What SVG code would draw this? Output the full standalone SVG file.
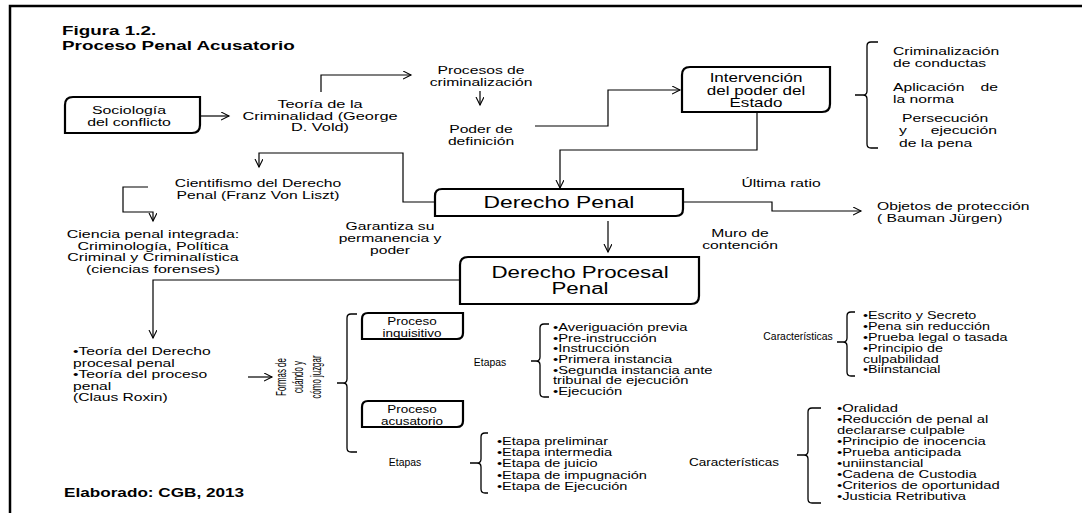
<svg xmlns="http://www.w3.org/2000/svg" width="1082" height="513" viewBox="0 0 1082 513">
<style>
text{font-family:"Liberation Sans",Arial,sans-serif;fill:#000}
.m{text-anchor:middle}
.e{text-anchor:end}
.b{font-weight:bold}
.f11{font-size:11.2px}
.f10{font-size:10.4px}
.box{fill:#fff;stroke:#000;stroke-width:2.2}
.ln{fill:none;stroke:#000;stroke-width:1.2}
.br{fill:none;stroke:#000;stroke-width:1.3}
</style>
<defs>
<marker id="ah" markerWidth="10" markerHeight="10" refX="8" refY="4" orient="auto" markerUnits="userSpaceOnUse">
<path d="M0,0 L8,4 L0,8" fill="none" stroke="#000" stroke-width="1.1"/>
</marker>
</defs>
<rect width="1082" height="513" fill="#fff"/>
<path d="M10 513 V6 H1082" fill="none" stroke="#000" stroke-width="2.5"/>

<g id="title">
<text class="b" font-size="13" transform="translate(62,35) scale(1.45,1)">Figura 1.2.<tspan x="0" dy="15">Proceso Penal Acusatorio</tspan></text>
</g>

<g id="connectors">
<path class="ln" d="M200 116 H229" marker-end="url(#ah)"/>
<path class="ln" d="M321 92 V75 H411" marker-end="url(#ah)"/>
<path class="ln" d="M480 91 V105" marker-end="url(#ah)"/>
<path class="ln" d="M535 126 H608 V90 H680" marker-end="url(#ah)"/>
<path class="ln" d="M757 112 V150 H560 V188" marker-end="url(#ah)"/>
<path class="ln" d="M435 202 H403 V153 H259 V167" marker-end="url(#ah)"/>
<path class="ln" d="M148 187 H123 V212 H153 V221" marker-end="url(#ah)"/>
<path class="ln" d="M683 202 H772 V211 H861" marker-end="url(#ah)"/>
<path class="ln" d="M608 221 V252" marker-end="url(#ah)"/>
<path class="ln" d="M460 280 H153 V338" marker-end="url(#ah)"/>
<path class="ln" d="M248 377 H272" marker-end="url(#ah)"/>
</g>

<g id="sociologia">
<path class="box" d="M65 105 Q65 97 73 97 H200 V125 Q200 133 192 133 H65 Z"/>
<text class="m" font-size="11.5" transform="translate(129,114) scale(1.38,1)">Sociología<tspan x="0" dy="12">del conflicto</tspan></text>
</g>

<g id="teoria-criminalidad">
<text class="m" font-size="11.5" transform="translate(320,108) scale(1.42,1)">Teoría de la<tspan x="0" dy="11.7">Criminalidad (George</tspan><tspan x="0" dy="11.7">D. Vold)</tspan></text>
</g>

<g id="procesos-criminalizacion">
<text class="m f11" transform="translate(481,74) scale(1.4,1)">Procesos de<tspan x="0" dy="12">criminalización</tspan></text>
</g>

<g id="poder-definicion">
<text class="m f11" transform="translate(481,133) scale(1.4,1)">Poder de<tspan x="0" dy="12">definición</tspan></text>
</g>

<g id="intervencion">
<path class="box" d="M682 75 Q682 67 690 67 H830 V104 Q830 112 822 112 H682 Z"/>
<text class="m" font-size="12" transform="translate(756,82) scale(1.42,1)">Intervención<tspan x="0" dy="12.8">del poder del</tspan><tspan x="0" dy="12.2">Estado</tspan></text>
</g>

<g id="funciones">
<path class="br" d="M878 42 H871 Q867 42 867 46 V91 Q867 95 863 95 H855 M863 95 Q867 95 867 99 V144 Q867 148 871 148 H878"/>
<text class="f11" transform="translate(893,55) scale(1.4,1)">Criminalización<tspan x="0" dy="12">de conductas</tspan></text>
<text class="f11" transform="translate(893,91) scale(1.4,1)">Aplicación</text>
<text class="f11 e" transform="translate(998,91) scale(1.4,1)">de</text>
<text class="f11" transform="translate(893,103) scale(1.4,1)">la norma</text>
<text class="f11" transform="translate(902,122) scale(1.4,1)">Persecución</text>
<text class="f11" transform="translate(899,134) scale(1.4,1)">y</text>
<text class="f11 e" transform="translate(997,134) scale(1.4,1)">ejecución</text>
<text class="f11" transform="translate(899,147) scale(1.4,1)">de la pena</text>
</g>

<g id="derecho-penal">
<path class="box" d="M435 196 Q435 189 442 189 H683 V209 Q683 216 676 216 H435 Z"/>
<text class="m" font-size="16.3" transform="translate(559,208) scale(1.4,1)">Derecho Penal</text>
</g>

<g id="labels-dp">
<text class="m f11" transform="translate(781,187) scale(1.4,1)">Última ratio</text>
<text class="m f11" transform="translate(740,237) scale(1.4,1)">Muro de<tspan x="0" dy="12">contención</tspan></text>
<text class="m f11" transform="translate(390,230) scale(1.4,1)">Garantiza su<tspan x="0" dy="12">permanencia y</tspan><tspan x="0" dy="12">poder</tspan></text>
</g>

<g id="objetos">
<text class="f11" transform="translate(877,210) scale(1.4,1)">Objetos de protección<tspan x="0" dy="12.5">( Bauman Jürgen)</tspan></text>
</g>

<g id="cientifismo">
<text class="m f11" transform="translate(258,187) scale(1.4,1)">Cientifismo del Derecho<tspan x="0" dy="12.5">Penal (Franz Von Liszt)</tspan></text>
</g>

<g id="ciencia-penal">
<text class="m f11" transform="translate(153,238) scale(1.43,1)">Ciencia penal integrada:<tspan x="0" dy="11.6">Criminología, Política</tspan><tspan x="0" dy="11.6">Criminal y Criminalística</tspan><tspan x="0" dy="11.6">(ciencias forenses)</tspan></text>
</g>

<g id="derecho-procesal-penal">
<path class="box" d="M460 265 Q460 257 468 257 H699 V296 Q699 304 691 304 H460 Z"/>
<text class="m" font-size="15.6" transform="translate(580,277.5) scale(1.43,1)">Derecho Procesal<tspan x="0" dy="16.3">Penal</tspan></text>
</g>

<g id="teoria-proceso">
<text font-size="10.8" transform="translate(73,355) scale(1.45,1)">•Teoría del Derecho<tspan x="0" dy="11.6">procesal penal</tspan><tspan x="0" dy="11.6">•Teoría del proceso</tspan><tspan x="0" dy="11.6">penal</tspan><tspan x="0" dy="11.6">(Claus Roxin)</tspan></text>
</g>

<g id="formas">
<text class="m" font-size="12" transform="translate(286,377) rotate(-90) scale(0.66,1.2)">Formas de<tspan x="0" dy="14.5">cuándo y</tspan><tspan x="0" dy="14.5">cómo juzgar</tspan></text>
<path class="br" d="M357 314 H351 Q347 314 347 318 V379 Q347 383 343 383 H337 M343 383 Q347 383 347 387 V448 Q347 452 351 452 H357"/>
</g>

<g id="proceso-inquisitivo">
<path class="box" d="M362 319 Q362 313 368 313 H463 V333 Q463 339 457 339 H362 Z"/>
<text class="m" font-size="11.7" transform="translate(412,324.5) scale(1.15,1)">Proceso<tspan x="0" dy="12.3">inquisitivo</tspan></text>
<text class="m f10" transform="translate(490,366)">Etapas</text>
<path class="br" d="M549 324 H544 Q540 324 540 328 V357 Q540 361 536 361 H531 M536 361 Q540 361 540 365 V393 Q540 397 544 397 H549"/>
<text class="f10" transform="translate(553,331) scale(1.42,1)">•Averiguación previa<tspan x="0" dy="10.7">•Pre-instrucción</tspan><tspan x="0" dy="10.7">•Instrucción</tspan><tspan x="0" dy="10.7">•Primera instancia</tspan><tspan x="0" dy="10.7">•Segunda instancia ante</tspan><tspan x="0" dy="10.7">tribunal de ejecución</tspan><tspan x="0" dy="10.7">•Ejecución</tspan></text>
<text class="m f10" transform="translate(798,340)">Características</text>
<path class="br" d="M855 312 H851 Q847 312 847 316 V338 Q847 342 843 342 H837 M843 342 Q847 342 847 346 V372 Q847 376 851 376 H855"/>
<text class="f10" transform="translate(863,319) scale(1.38,1)">•Escrito y Secreto<tspan x="0" dy="10.9">•Pena sin reducción</tspan><tspan x="0" dy="10.9">•Prueba legal o tasada</tspan><tspan x="0" dy="10.9">•Principio de</tspan><tspan x="0" dy="10.9">culpabilidad</tspan><tspan x="0" dy="10.9">•Biinstancial</tspan></text>
</g>

<g id="proceso-acusatorio">
<path class="box" d="M362 407 Q362 401 368 401 H463 V421 Q463 427 457 427 H362 Z"/>
<text class="m" font-size="11.7" transform="translate(412,412.5) scale(1.15,1)">Proceso<tspan x="0" dy="12.3">acusatorio</tspan></text>
<text class="m f10" transform="translate(405,466)">Etapas</text>
<path class="br" d="M488 433 H485 Q481 433 481 437 V459 Q481 463 477 463 H470 M477 463 Q481 463 481 467 V489 Q481 493 485 493 H488"/>
<text class="f10" transform="translate(497,445) scale(1.4,1)">•Etapa preliminar<tspan x="0" dy="11.2">•Etapa intermedia</tspan><tspan x="0" dy="11.2">•Etapa de juicio</tspan><tspan x="0" dy="11.2">•Etapa de impugnación</tspan><tspan x="0" dy="11.2">•Etapa de Ejecución</tspan></text>
<text class="m f10" transform="translate(734,466) scale(1.3,1)">Características</text>
<path class="br" d="M821 408 H812 Q808 408 808 412 V451 Q808 455 804 455 H797 M804 455 Q808 455 808 459 V499 Q808 503 812 503 H821"/>
<text class="f10" transform="translate(837,412) scale(1.42,1)">•Oralidad<tspan x="0" dy="11">•Reducción de penal al</tspan><tspan x="0" dy="11">declararse culpable</tspan><tspan x="0" dy="11">•Principio de inocencia</tspan><tspan x="0" dy="11">•Prueba anticipada</tspan><tspan x="0" dy="11">•uniinstancial</tspan><tspan x="0" dy="11">•Cadena de Custodia</tspan><tspan x="0" dy="11">•Criterios de oportunidad</tspan><tspan x="0" dy="11">•Justicia Retributiva</tspan></text>
</g>

<g id="credito">
<text class="b" font-size="12" transform="translate(64,497) scale(1.43,1)">Elaborado: CGB, 2013</text>
</g>
</svg>
